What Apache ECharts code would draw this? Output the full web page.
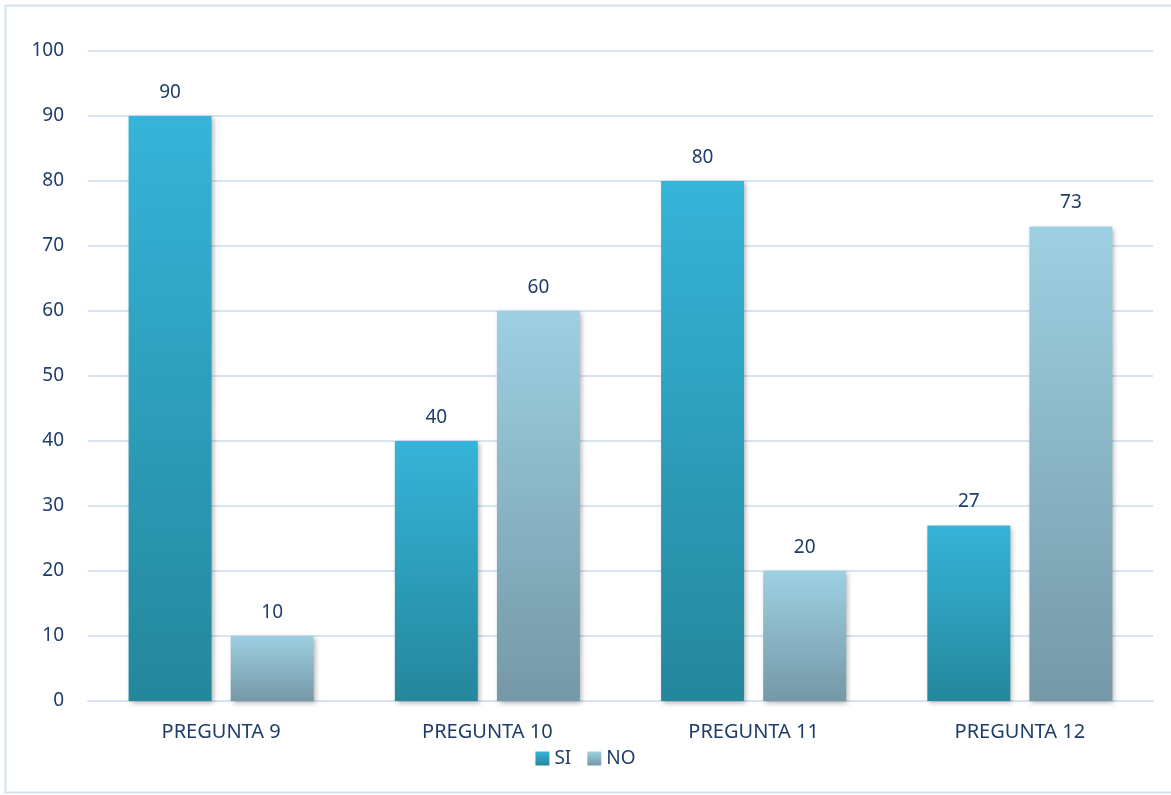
<!DOCTYPE html>
<html><head><meta charset="utf-8">
<script src="https://cdn.jsdelivr.net/npm/echarts@6/dist/echarts.min.js"></script>
<style>html,body{margin:0;padding:0;background:#fff}#c{width:1171px;height:795px}</style>
</head><body><div id="c"></div>
<script>
const categories = ['PREGUNTA 9', 'PREGUNTA 10', 'PREGUNTA 11', 'PREGUNTA 12'];
const siValues = [90, 40, 80, 27];
const noValues = [10, 60, 20, 73];
const yTicks = {min: 0, max: 100, interval: 10};

const txt = '#1f3d6b';
const font = '"Noto Sans", "Open Sans", sans-serif';
function grad(top, bottom) {
  return new echarts.graphic.LinearGradient(0, 0, 0, 1, [{offset: 0, color: top}, {offset: 1, color: bottom}]);
}
const chart = echarts.init(document.getElementById('c'));
chart.setOption({
  animation: false,
  textStyle: {fontFamily: font},
  graphic: [{type: 'rect', shape: {x: 5.5, y: 5.5, width: 1170, height: 787}, style: {fill: 'none', stroke: '#d5e1f0', lineWidth: 2}, silent: true, z: -1}],
  grid: {left: 88, right: 18, top: 51, bottom: 94},
  legend: {
    bottom: 22, left: 'center', itemWidth: 14, itemHeight: 14, itemGap: 16, icon: 'rect',
    textStyle: {color: txt, fontSize: 19, fontFamily: font},
    data: ['SI', 'NO']
  },
  xAxis: {
    type: 'category', data: categories,
    axisLine: {lineStyle: {color: '#d6e2f1', width: 2}},
    axisTick: {show: false},
    axisLabel: {color: txt, fontSize: 20, margin: 21, fontFamily: font}
  },
  yAxis: {
    type: 'value', min: yTicks.min, max: yTicks.max, interval: yTicks.interval,
    axisLine: {show: false}, axisTick: {show: false},
    splitLine: {lineStyle: {color: '#d9e4f2', width: 2}},
    axisLabel: {color: txt, fontSize: 19, margin: 24, fontFamily: font}
  },
  series: [
    {
      name: 'SI', type: 'bar', data: siValues, barWidth: 83, barGap: '23%',
      itemStyle: {color: grad('#36b4d9', '#24879c'), shadowColor: 'rgba(0,0,0,0.3)', shadowBlur: 5, shadowOffsetX: 2, shadowOffsetY: 2},
      label: {show: true, position: 'top', distance: 14, color: txt, fontSize: 19, fontFamily: font}
    },
    {
      name: 'NO', type: 'bar', data: noValues, barWidth: 83,
      itemStyle: {color: grad('#9dd0e2', '#7598a7'), shadowColor: 'rgba(0,0,0,0.3)', shadowBlur: 5, shadowOffsetX: 2, shadowOffsetY: 2},
      label: {show: true, position: 'top', distance: 14, color: txt, fontSize: 19, fontFamily: font}
    }
  ]
});
</script></body></html>
